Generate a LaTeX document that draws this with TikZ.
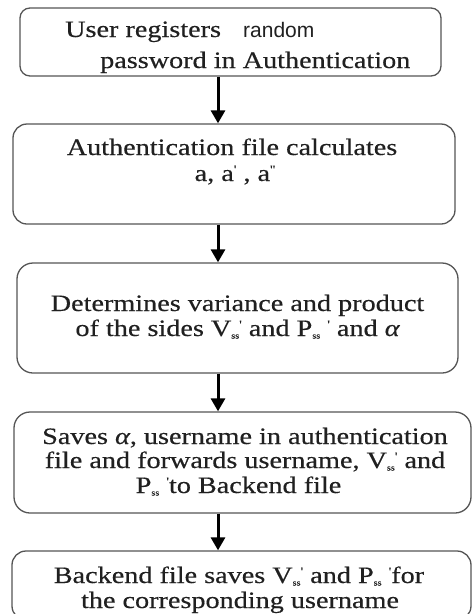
\documentclass[tikz,border=0pt]{standalone}
\usepackage{fontspec}
\setmainfont{Liberation Serif}
\newfontfamily\bodyfont[FakeStretch=1.2,FakeBold=0.4]{Liberation Serif}
\newfontfamily\sansword{Liberation Sans}
\usetikzlibrary{arrows.meta}
\definecolor{boxline}{HTML}{555555}
\definecolor{ink}{HTML}{202020}
% tiny "ss" subscript and raised prime used in the variable names
\newcommand\subss{\raisebox{-2.5pt}{\fontsize{8.5}{8.5}\selectfont ss}}
\newcommand\primemark{\raisebox{7.5pt}{\fontsize{12}{12}\selectfont '}}
\begin{document}
\begin{tikzpicture}[x=1pt,y=-1pt,
  flowbox/.style={draw=boxline, line width=1.3pt, inner sep=0pt, rectangle},
  txt/.style={anchor=base, inner sep=0pt, text=ink, font=\bodyfont\fontsize{23.5}{25}\selectfont},
  flowarrow/.style={line width=3pt, draw=black, -{Triangle[length=13pt,width=14pt]}}]
\clip (0,0) rectangle (473,614);
\fill[white] (0,0) rectangle (473,614);

% process boxes
\node[flowbox, rounded corners=10pt, minimum width=421pt, minimum height=68pt]  (b1) at (230.5,42) {};
\node[flowbox, rounded corners=14pt, minimum width=442pt, minimum height=100pt] (b2) at (234,174) {};
\node[flowbox, rounded corners=16pt, minimum width=441pt, minimum height=110pt] (b3) at (237.5,318) {};
\node[flowbox, rounded corners=16pt, minimum width=457pt, minimum height=101pt] (b4) at (242.5,462.5) {};
\node[flowbox, rounded corners=14pt, minimum width=459pt, minimum height=69pt]  (b5) at (241.5,585.5) {};

% box texts
\node[txt, anchor=base west] (t1a) at (65,37) {User registers};
\node[txt, anchor=base west, font=\sansword\fontsize{21}{25}\selectfont] (t1b) at (243,37) {random};
\node[txt, anchor=base west] (t1c) at (100,68) {password in Authentication};

\node[txt] (t2a) at (232,155) {Authentication file calculates};
\node[txt] (t2b) at (235,181) {a, a\primemark\ , a\primemark\primemark};

\node[txt] (t3a) at (237.5,311) {Determines variance and product};
\node[txt] (t3b) at (237.5,336) {of the sides V\subss\primemark\ and P\subss\ \primemark\ and {\itshape α}};

\node[txt] (t4a) at (245,444) {Saves {\itshape α}, username in authentication};
\node[txt] (t4b) at (245,468) {file and forwards username, V\subss\primemark\ and};
\node[txt] (t4c) at (238.5,493) {P\subss\ \primemark to Backend file};

\node[txt] (t5a) at (239,583) {Backend file saves V\subss\primemark\ and P\subss\ \primemark for};
\node[txt] (t5b) at (240,608) {the corresponding username};

% connectors
\coordinate (ax) at (218,0);
\draw[flowarrow] (ax |- b1.south) -- (ax |- b2.north);
\draw[flowarrow] (ax |- b2.south) -- (ax |- b3.north);
\draw[flowarrow] (ax |- b3.south) -- (ax |- b4.north);
\draw[flowarrow] (ax |- b4.south) -- (ax |- b5.north);
\end{tikzpicture}
\end{document}
